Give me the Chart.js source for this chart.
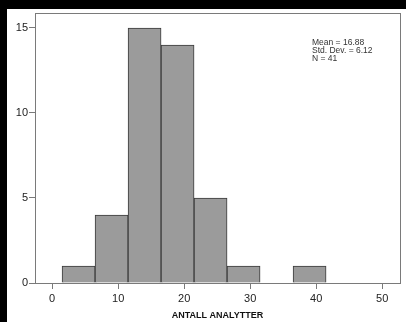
<!DOCTYPE html>
<html>
<head>
<meta charset="utf-8">
<script src="https://cdn.jsdelivr.net/npm/chart.js@4"></script>
<style>
  html, body { margin: 0; padding: 0; background: #000; }
  #wrap { width: 406px; height: 322px; }
</style>
</head>
<body>
<div id="wrap"><canvas id="hist" width="406" height="322"></canvas></div>
<script>
// histogram bins (centers), counts and labels
const binCenters = [4, 9, 14, 19, 24, 29, 34, 39];
const counts = [1, 4, 15, 14, 5, 1, 0, 1];
const xTicks = [0, 10, 20, 30, 40, 50];
const yTicks = [0, 5, 10, 15];
const xTitle = 'ANTALL ANALYTTER';
const statLines = ['Mean = 16.88', 'Std. Dev. = 6.12', 'N = 41'];

const axisColor = '#7a7a7a';

// black frame + white panel, like the pasted screenshot
const panel = {
  id: 'panel',
  beforeDraw(chart) {
    const ctx = chart.ctx;
    ctx.save();
    ctx.fillStyle = '#000';
    ctx.fillRect(0, 0, chart.width, chart.height);
    ctx.fillStyle = '#fff';
    ctx.fillRect(7, 9, chart.width - 7, chart.height - 9);
    ctx.restore();
  },
  afterDraw(chart) {
    const a = chart.chartArea;
    const ctx = chart.ctx;
    ctx.save();
    ctx.strokeStyle = axisColor;
    ctx.lineWidth = 1;
    ctx.strokeRect(a.left + 0.5, a.top + 0.5, a.right - a.left, a.bottom - a.top);
    // stats box text
    ctx.fillStyle = '#333';
    ctx.font = '8.5px Arial, "Liberation Sans", sans-serif';
    ctx.textBaseline = 'middle';
    statLines.forEach((t, i) => ctx.fillText(t, 312, 43 + i * 8));
    ctx.restore();
  }
};

new Chart(document.getElementById('hist'), {
  type: 'bar',
  data: {
    datasets: [{
      data: binCenters.map((x, i) => ({ x: x, y: counts[i] })),
      backgroundColor: '#9b9b9b',
      borderColor: '#3a3a3a',
      borderWidth: 1,
      barPercentage: 1,
      categoryPercentage: 1
    }]
  },
  options: {
    responsive: false,
    animation: false,
    layout: { padding: { left: 7, top: 13, right: 6, bottom: 0 } },
    plugins: { legend: { display: false }, tooltip: { enabled: false } },
    scales: {
      x: {
        type: 'linear',
        offset: false,
        min: -2.6,
        max: 52.7,
        afterFit(s) { s.height = 39; },
        afterBuildTicks(s) { s.ticks = xTicks.map(v => ({ value: v })); },
        grid: { display: true, offset: false, drawOnChartArea: false, drawTicks: true, tickLength: 6, color: axisColor },
        border: { display: true, color: axisColor },
        ticks: { color: '#222', font: { family: 'Arial, "Liberation Sans"', size: 11 }, padding: 3, maxRotation: 0 },
        title: {
          display: true,
          text: xTitle,
          color: '#111',
          font: { family: 'Arial, "Liberation Sans"', size: 9, weight: 'bold' },
          padding: { top: 0, bottom: 1 }
        }
      },
      y: {
        min: 0,
        max: 15.88,
        afterFit(s) { s.width = 28; },
        afterBuildTicks(s) { s.ticks = yTicks.map(v => ({ value: v })); },
        grid: { display: true, drawOnChartArea: false, drawTicks: true, tickLength: 6, color: axisColor },
        border: { display: true, color: axisColor },
        ticks: { color: '#222', font: { family: 'Arial, "Liberation Sans"', size: 11 }, padding: 1 }
      }
    }
  },
  plugins: [panel]
});
</script>
</body>
</html>
